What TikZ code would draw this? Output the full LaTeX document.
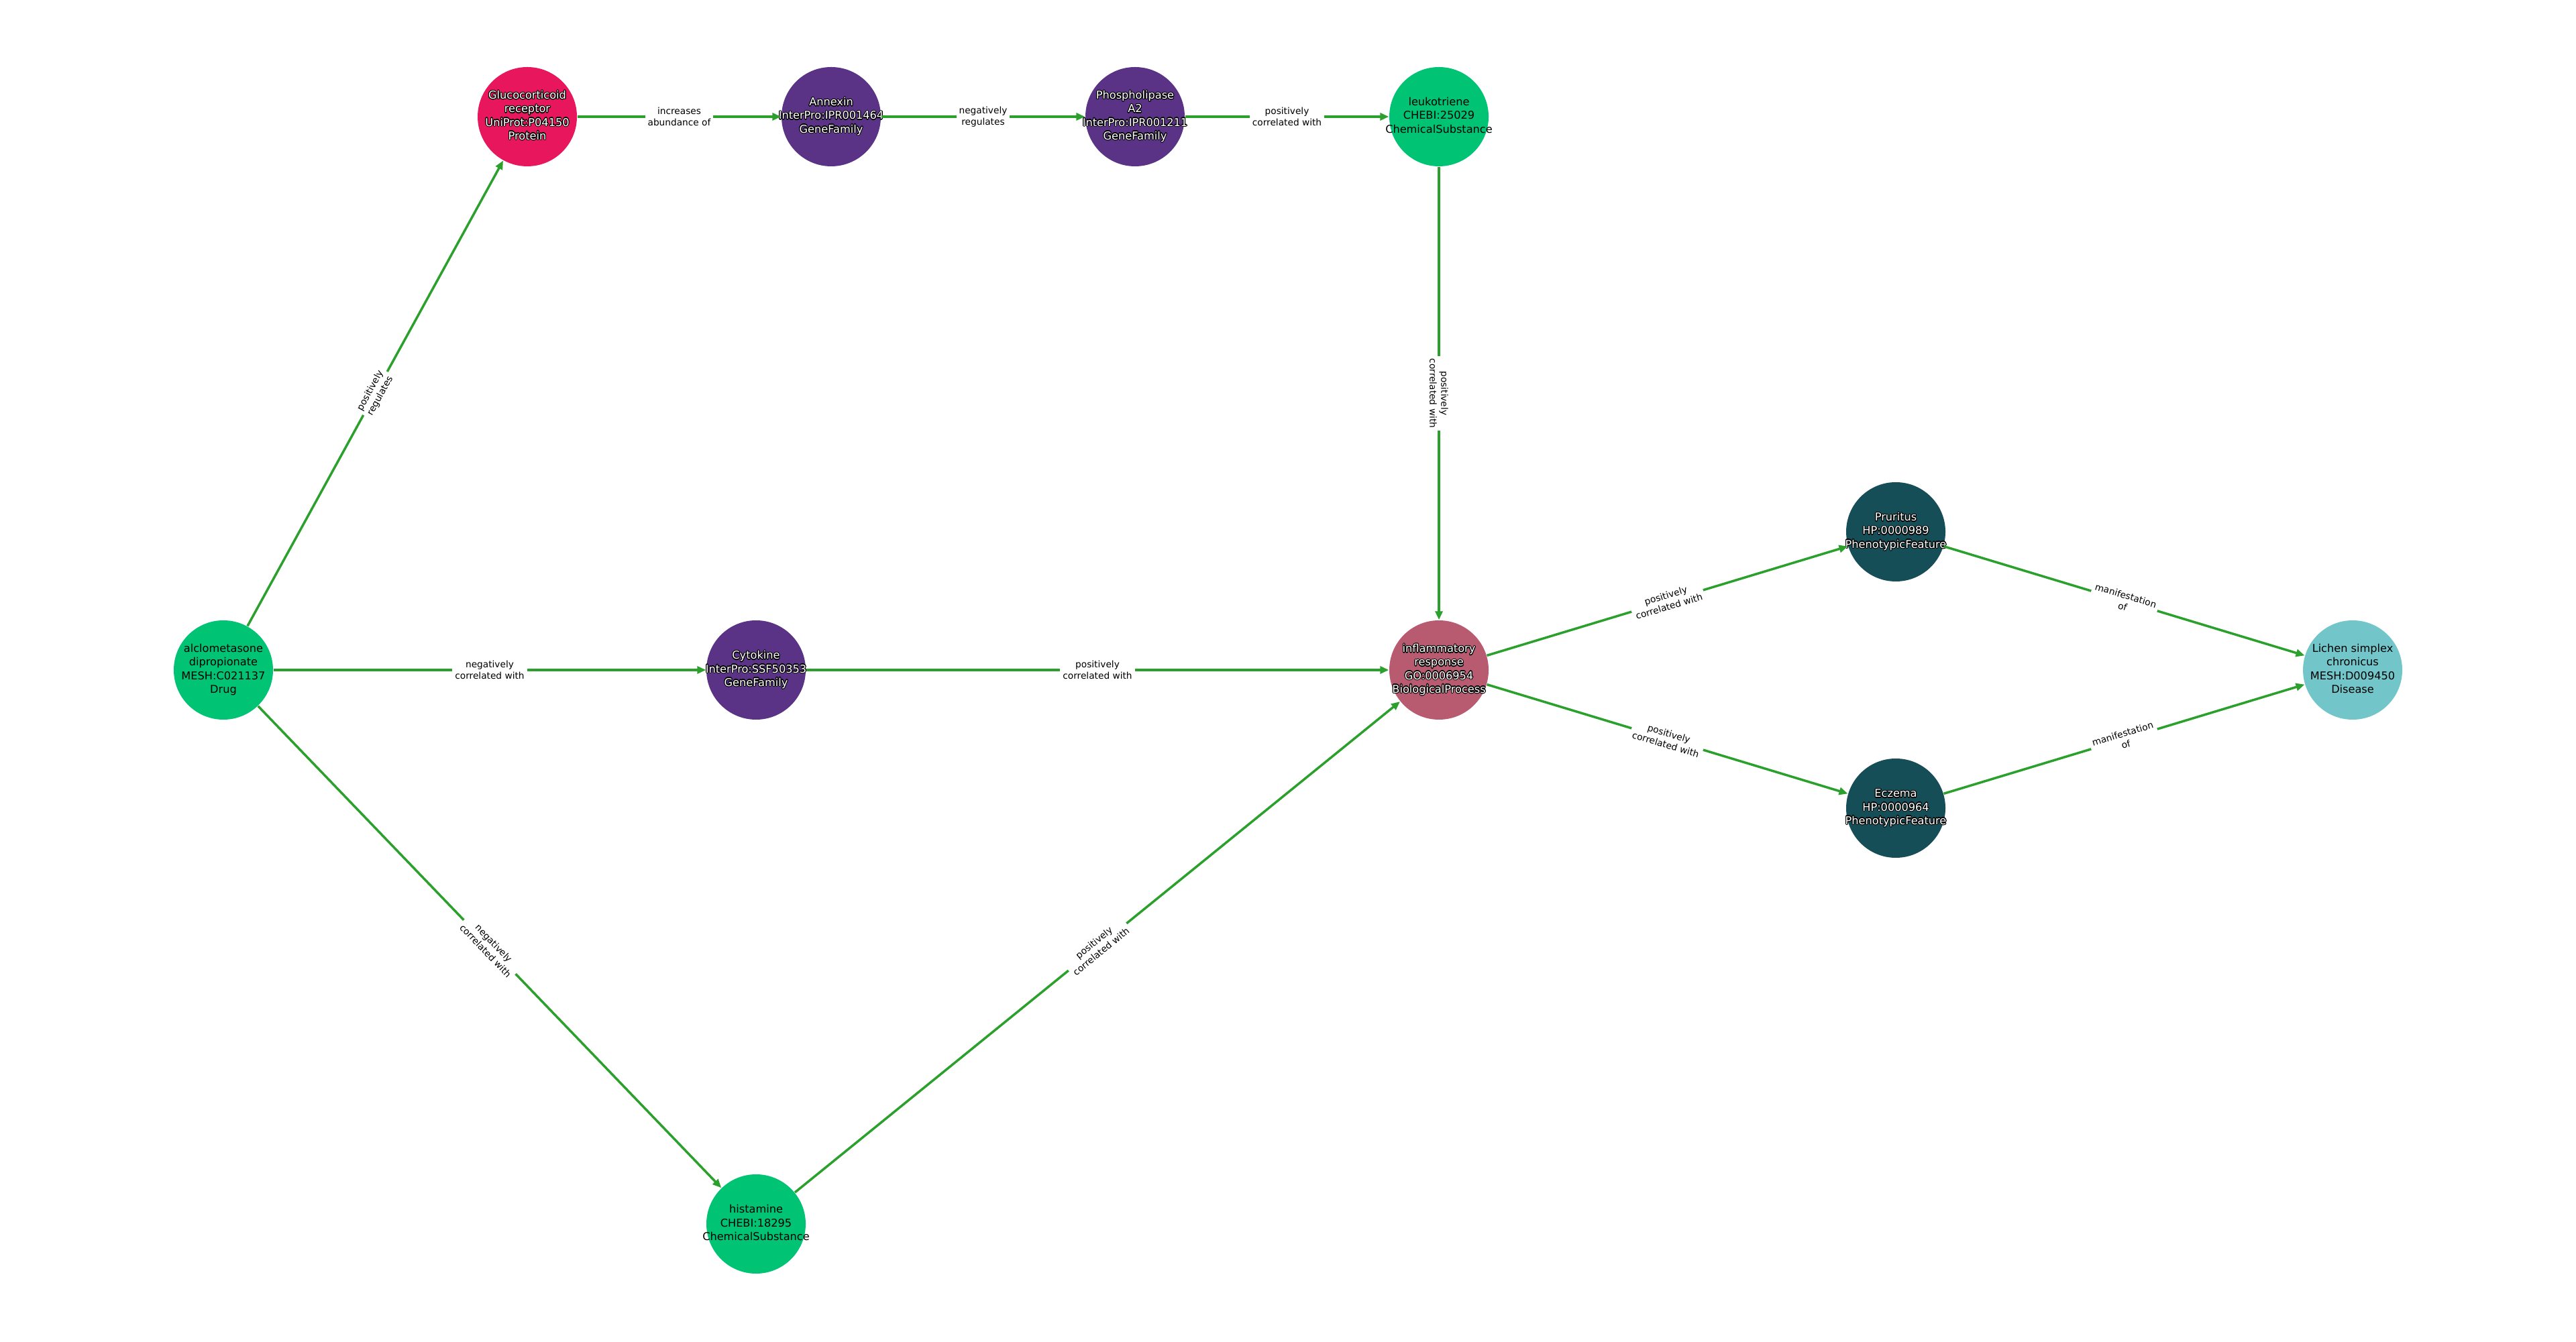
\documentclass[tikz,border=0pt]{standalone}
\usepackage{fontspec}
\setmainfont{DejaVu Sans}
\usepackage{contour}
\contourlength{0.3pt}
\usetikzlibrary{arrows.meta}
\definecolor{chemgreen}{HTML}{00C374}
\definecolor{protpink}{HTML}{E8175D}
\definecolor{genepurple}{HTML}{5A3386}
\definecolor{procrose}{HTML}{B85A70}
\definecolor{phenoteal}{HTML}{164E57}
\definecolor{diseasecyan}{HTML}{72C6CA}
\definecolor{relgreen}{HTML}{2CA02C}
\newcommand{\wl}[1]{\contour{black}{#1}}
\newcommand{\entlines}[1]{\makebox[0pt]{\begin{tabular}{@{}c@{}}#1\end{tabular}}}

\begin{document}
\begin{tikzpicture}
\tikzset{ent/.style={circle, minimum size=1.48cm, inner sep=0pt, font=\fontsize{4.6}{5.7}\selectfont},
  lightent/.style={ent, text=black},
  darkent/.style={ent, text=white},
  rel/.style={draw=relgreen, line width=1pt, -{Triangle[length=0.13cm,width=0.11cm]}},
  lab/.style={fill=white, inner sep=0.04cm, align=center, text=black, font=\fontsize{3.9}{4.8}\selectfont}}
\useasboundingbox (0,0) rectangle (38.4,20);
\node[lightent, fill=chemgreen] (alclo) at (3.33, 10.01) {\entlines{alclometasone\\dipropionate\\MESH:C021137\\Drug}};
\node[darkent, fill=protpink] (gluco) at (7.86, 18.26) {\entlines{\wl{Glucocorticoid}\\\wl{receptor}\\\wl{UniProt:P04150}\\\wl{Protein}}};
\node[darkent, fill=genepurple] (annexin) at (12.39, 18.26) {\entlines{\wl{Annexin}\\\wl{InterPro:IPR001464}\\\wl{GeneFamily}}};
\node[darkent, fill=genepurple] (phospho) at (16.92, 18.26) {\entlines{\wl{Phospholipase}\\\wl{A2}\\\wl{InterPro:IPR001211}\\\wl{GeneFamily}}};
\node[lightent, fill=chemgreen] (leuko) at (21.45, 18.26) {\entlines{leukotriene\\CHEBI:25029\\ChemicalSubstance}};
\node[darkent, fill=genepurple] (cytokine) at (11.27, 10.01) {\entlines{\wl{Cytokine}\\\wl{InterPro:SSF50353}\\\wl{GeneFamily}}};
\node[darkent, fill=procrose] (inflam) at (21.45, 10.01) {\entlines{\wl{inflammatory}\\\wl{response}\\\wl{GO:0006954}\\\wl{BiologicalProcess}}};
\node[lightent, fill=chemgreen] (histamine) at (11.27, 1.75) {\entlines{histamine\\CHEBI:18295\\ChemicalSubstance}};
\node[darkent, fill=phenoteal] (pruritus) at (28.26, 12.07) {\entlines{\wl{Pruritus}\\\wl{HP:0000989}\\\wl{PhenotypicFeature}}};
\node[darkent, fill=phenoteal] (eczema) at (28.26, 7.95) {\entlines{\wl{Eczema}\\\wl{HP:0000964}\\\wl{PhenotypicFeature}}};
\node[lightent, fill=diseasecyan] (lichen) at (35.07, 10.01) {\entlines{Lichen simplex\\chronicus\\MESH:D009450\\Disease}};
\draw[rel] (alclo) -- node[lab, sloped] {positively\\regulates} (gluco);
\draw[rel] (alclo) -- node[lab] {negatively\\correlated with} (cytokine);
\draw[rel] (alclo) -- node[lab, sloped] {negatively\\correlated with} (histamine);
\draw[rel] (gluco) -- node[lab] {increases\\abundance of} (annexin);
\draw[rel] (annexin) -- node[lab] {negatively\\regulates} (phospho);
\draw[rel] (phospho) -- node[lab] {positively\\correlated with} (leuko);
\draw[rel] (leuko) -- node[lab, rotate=-90] {positively\\correlated with} (inflam);
\draw[rel] (cytokine) -- node[lab] {positively\\correlated with} (inflam);
\draw[rel] (histamine) -- node[lab, sloped] {positively\\correlated with} (inflam);
\draw[rel] (inflam) -- node[lab, sloped] {positively\\correlated with} (pruritus);
\draw[rel] (inflam) -- node[lab, sloped] {positively\\correlated with} (eczema);
\draw[rel] (pruritus) -- node[lab, sloped] {manifestation\\of} (lichen);
\draw[rel] (eczema) -- node[lab, sloped] {manifestation\\of} (lichen);
\end{tikzpicture}
\end{document}
